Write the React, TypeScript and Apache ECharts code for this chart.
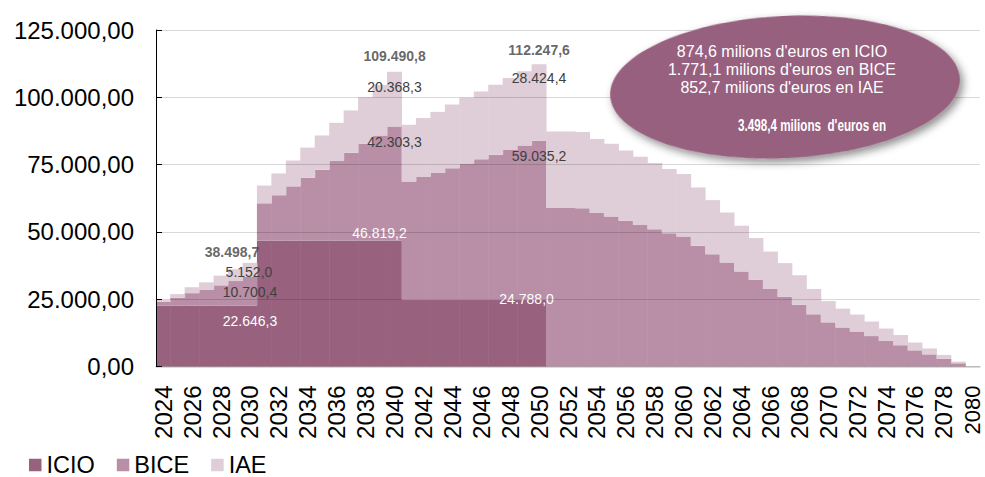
import React, { useEffect, useRef } from "react";
import * as echarts from "echarts";

const years = [
  "2024", "2025", "2026", "2027", "2028", "2029", "2030", "2031", "2032", "2033",
  "2034", "2035", "2036", "2037", "2038", "2039", "2040", "2041", "2042", "2043",
  "2044", "2045", "2046", "2047", "2048", "2049", "2050", "2051", "2052", "2053",
  "2054", "2055", "2056", "2057", "2058", "2059", "2060", "2061", "2062", "2063",
  "2064", "2065", "2066", "2067", "2068", "2069", "2070", "2071", "2072", "2073",
  "2074", "2075", "2076", "2077", "2078", "2079", "2080",
];

const icio = [
  22646.3, 22646.3, 22646.3, 22646.3, 22646.3, 22646.3, 22646.3,
  46819.2, 46819.2, 46819.2, 46819.2, 46819.2, 46819.2, 46819.2, 46819.2, 46819.2, 46819.2,
  24788.0, 24788.0, 24788.0, 24788.0, 24788.0, 24788.0, 24788.0, 24788.0, 24788.0, 24788.0,
  0, 0, 0, 0, 0, 0, 0, 0, 0, 0, 0, 0, 0, 0, 0, 0, 0, 0, 0, 0, 0, 0, 0, 0, 0, 0, 0, 0, 0, 0, 0,
];

const bice = [
  1400, 2900, 4600, 5800, 7500, 9100, 10700.4,
  13800, 16800, 20100, 23300, 26300, 29500, 32600, 35900, 39000, 42303.3,
  43900, 45600, 47100, 48900, 50600, 52200, 53900, 55600, 57300, 59035.2,
  58900, 58900, 58800, 57000, 55700, 54100, 52600, 51000, 49500, 48300,
  44900, 41700, 38600, 35300, 32200, 28800, 25900, 22900, 19400, 16400,
  14500, 13000, 11300, 9500, 7900, 6000, 4500, 2900, 1200, 0,
];

const iae = [
  650, 1350, 2200, 2800, 3600, 4400, 5152.0,
  6600, 8100, 9600, 11200, 12700, 14200, 15700, 17300, 18800, 20368.3,
  21100, 21900, 22700, 23600, 24400, 25200, 26000, 26800, 27600, 28424.4,
  28400, 28400, 28300, 27500, 27000, 26100, 25300, 24600, 23900, 23200,
  21600, 20100, 18600, 17000, 15500, 13900, 12500, 11000, 9400, 7900,
  7000, 6300, 5400, 4600, 3800, 2900, 2200, 1400, 600, 0,
];

const labeledYears = ["2030", "2040", "2050"];

const summaryLines = [
  "874,6 milions d'euros en ICIO",
  "1.771,1 milions d'euros en BICE",
  "852,7 milions d'euros en IAE",
];
const summaryTotal = "3.498,4 milions  d'euros en";

const COLORS = { icio: "#98627F", bice: "#B98FA7", iae: "#DFCDD8", ellipse: "#98617F" };
const FONT = "'Liberation Sans', Arial, Helvetica, sans-serif";
const DARK = "#404040";

function fmt(v: number, d: number): string {
  const s = v.toFixed(d);
  const [int, dec] = s.split(".");
  const withDots = int.replace(/\B(?=(\d{3})+(?!\d))/g, ".");
  return dec ? withDots + "," + dec : withDots;
}

// label placement per series for the labelled years: [dx, dy, color]
const labelStyle: Record<string, Record<string, [number, number, string]>> = {
  icio: { "2030": [0, 8, "#ffffff"], "2040": [-15, -14.6, "#ffffff"], "2050": [-12.5, -8, "#ffffff"] },
  bice: { "2030": [0, 8, DARK], "2040": [0, 8, DARK], "2050": [0, 8, DARK] },
  iae: { "2030": [-1, 2.5, DARK], "2040": [0, 8, DARK], "2050": [0, 7, DARK] },
};
const totalOffsets: Record<string, [number, number]> = {
  "2030": [-18, -11],
  "2040": [0, -16],
  "2050": [0, -14],
};

function buildData(key: string, values: number[]) {
  return values.map((v, i) => {
    const y = years[i];
    const ls = labelStyle[key][y];
    if (!ls) return v;
    return {
      value: v,
      label: {
        show: true,
        position: "insideTop",
        distance: 0,
        offset: [ls[0], ls[1]],
        color: ls[2],
        fontSize: 14,
        fontFamily: FONT,
        formatter: () => fmt(v, 1),
      },
    };
  });
}

export default function App() {
  const ref = useRef<HTMLDivElement>(null);

  useEffect(() => {
    if (!ref.current) return;
    const chart = echarts.init(ref.current, undefined, { renderer: "svg" });

    const totalsData = labeledYears.map((y) => {
      const i = years.indexOf(y);
      const t = icio[i] + bice[i] + iae[i];
      const off = totalOffsets[y];
      return {
        value: [i, t],
        label: {
          show: true,
          position: "inside",
          offset: off,
          formatter: () => fmt(t, 1),
        },
      };
    });

    const xData = years.map((y, i) =>
      i === years.length - 1 ? { value: y, textStyle: { fontSize: 22 } } : y
    );

    const barSeries = (name: string, key: string, values: number[], color: string) => ({
      name,
      type: "bar",
      stack: "total",
      barWidth: 15,
      itemStyle: { color },
      data: buildData(key, values),
    });

    const option: any = {
      animation: false,
      textStyle: { fontFamily: FONT },
      grid: { left: 156, right: 5, top: 30, bottom: 110.5, containLabel: false, outerBoundsMode: "none" },
      legend: {
        data: ["ICIO", "BICE", "IAE"],
        left: 29,
        top: 453,
        padding: 0,
        icon: "rect",
        itemWidth: 12.5,
        itemHeight: 12.5,
        itemGap: 22,
        textStyle: { fontSize: 23.5, lineHeight: 23, color: "#000", fontFamily: FONT },
      },
      xAxis: {
        type: "category",
        data: xData,
        boundaryGap: true,
        axisLine: { show: true, lineStyle: { color: "#cfcfcf", width: 1.5 } },
        axisTick: { show: false },
        axisLabel: {
          interval: 1,
          rotate: 90,
          fontSize: 24,
          lineHeight: 18,
          color: "#000",
          margin: 19,
          fontFamily: FONT,
        },
        splitLine: { show: false },
      },
      yAxis: {
        type: "value",
        min: 0,
        max: 125000,
        interval: 25000,
        z: 5,
        axisLine: { show: true, lineStyle: { color: "#000", width: 1 } },
        axisTick: { show: true, inside: true, length: 6, lineStyle: { color: "#000" } },
        axisLabel: {
          fontSize: 24,
          color: "#000",
          margin: 22,
          fontFamily: FONT,
          formatter: (v: number) => fmt(v, 2),
        },
        splitLine: { show: true, lineStyle: { color: "rgba(0,0,0,0.15)", width: 1 } },
      },
      series: [
        barSeries("ICIO", "icio", icio, COLORS.icio),
        barSeries("BICE", "bice", bice, COLORS.bice),
        barSeries("IAE", "iae", iae, COLORS.iae),
        {
          name: "Total",
          type: "scatter",
          symbolSize: 0,
          silent: true,
          z: 10,
          label: { fontSize: 14, fontWeight: "bold", color: DARK, fontFamily: FONT },
          data: totalsData,
        },
      ],
      graphic: [
        {
          type: "ellipse",
          z: 100,
          x: 785,
          y: 87,
          rotation: 0.05,
          shape: { cx: 0, cy: 0, rx: 175, ry: 71 },
          style: {
            fill: COLORS.ellipse,
            shadowBlur: 8,
            shadowOffsetX: 3,
            shadowOffsetY: 4,
            shadowColor: "rgba(0,0,0,0.45)",
          },
        },
        ...summaryLines.map((t, k) => ({
          type: "text",
          z: 101,
          x: 782,
          y: 51 + k * 18.4,
          style: {
            text: t,
            fill: "#ffffff",
            font: `16px ${FONT}`,
            textAlign: "center",
            textVerticalAlign: "middle",
          },
        })),
        {
          type: "text",
          z: 101,
          x: 812,
          y: 125,
          scaleX: 0.73,
          style: {
            text: summaryTotal,
            fill: "#ffffff",
            font: `bold 16px ${FONT}`,
            textAlign: "center",
            textVerticalAlign: "middle",
          },
        },
      ],
    };

    chart.setOption(option);
    return () => chart.dispose();
  }, []);

  return (
    <div
      ref={ref}
      style={{ position: "fixed", left: 0, top: 0, width: 985, height: 477, background: "#fff" }}
    />
  );
}
